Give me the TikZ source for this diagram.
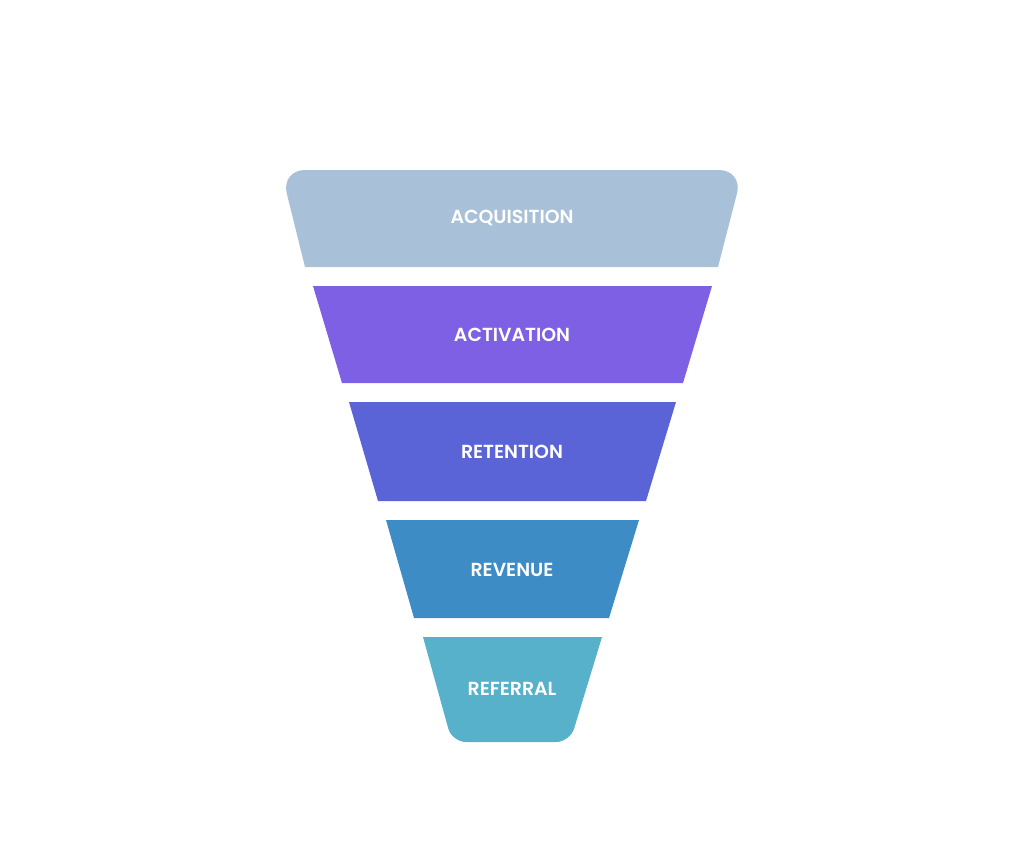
\documentclass[tikz,border=0pt]{standalone}
\usepackage{fontspec}
\IfFontExistsTF{Poppins SemiBold}
  {\setmainfont{Poppins}[BoldFont={Poppins SemiBold}]}
  {\setmainfont{Poppins}}
\definecolor{cA}{HTML}{A8C0D8}
\definecolor{cB}{HTML}{7D60E4}
\definecolor{cC}{HTML}{5A64D7}
\definecolor{cD}{HTML}{3D8CC6}
\definecolor{cE}{HTML}{57B1CA}
\begin{document}
\begin{tikzpicture}[x=1pt,y=-1pt,
  lbl/.style={text=white,font=\bfseries\fontsize{18.9}{19}\selectfont,inner sep=0pt}]
\useasboundingbox[fill=white] (0,0) rectangle (1024,862);
% band 1
\fill[cA] (305,267) [rounded corners=24pt] -- (281,170) -- (743,170) [sharp corners] -- (718,267) -- cycle;
\node[lbl] (acq) at (512,218) {ACQUISITION};
% band 2
\fill[cB] (313,286) -- (712,286) -- (683,383) -- (342,383) -- cycle;
\node[lbl] (act) at (512,335) {ACTIVATION};
% band 3
\fill[cC] (349,402) -- (676,402) -- (646,501) -- (378,501) -- cycle;
\node[lbl] (ret) at (512,452) {RETENTION};
% band 4
\fill[cD] (386,520) -- (639,520) -- (609,618) -- (414,618) -- cycle;
\node[lbl] (rev) at (512,570) {REVENUE};
% band 5
\fill[cE] (423,637) -- (602,637) [rounded corners=14pt] -- (570,742) -- (452,742) [sharp corners] -- cycle;
\node[lbl] (ref) at (512,689) {REFERRAL};
\end{tikzpicture}
\end{document}
